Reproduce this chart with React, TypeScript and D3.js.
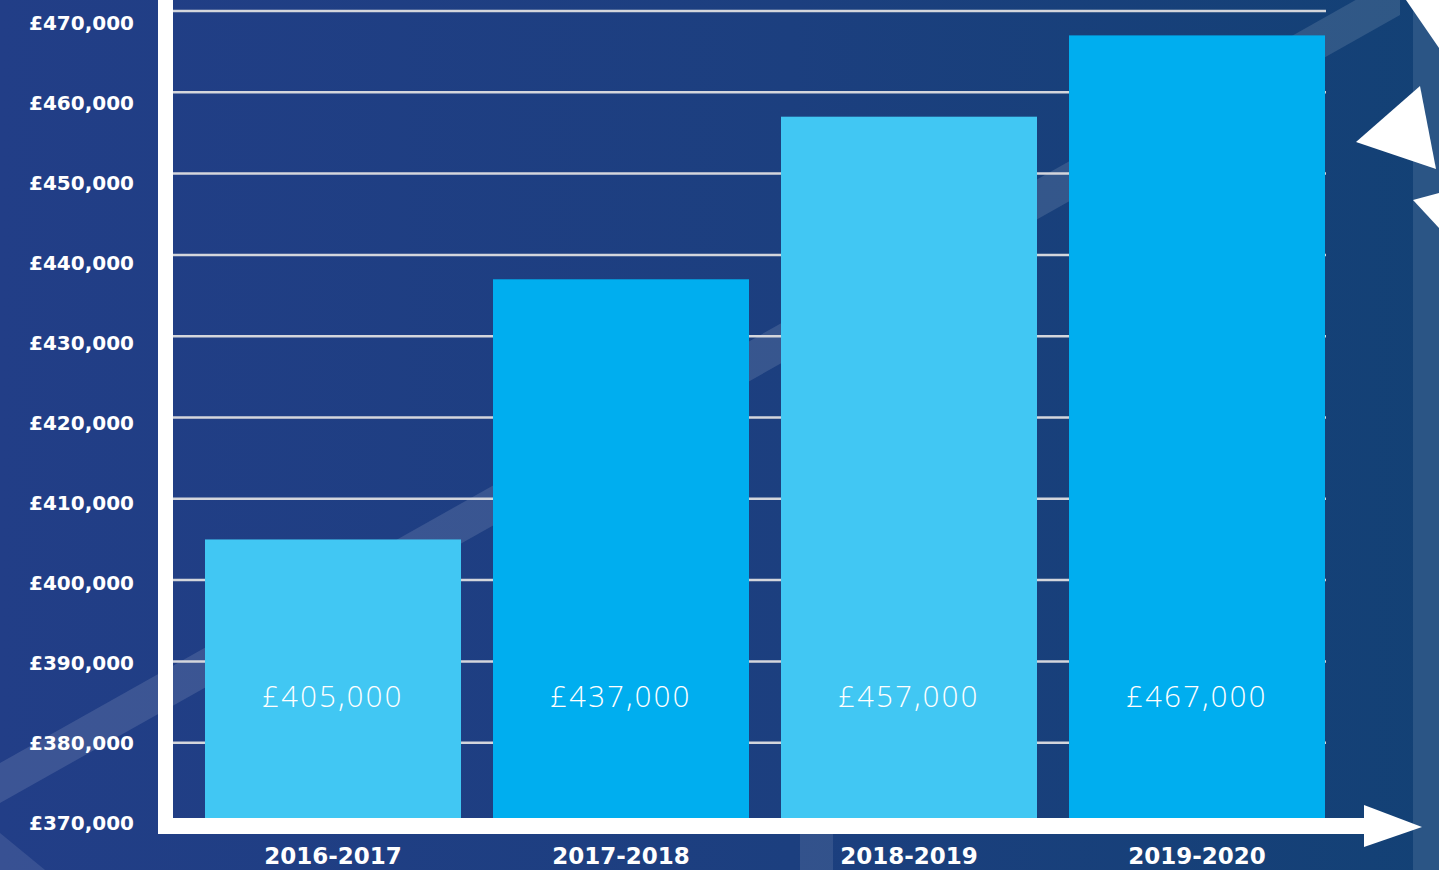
import React from "react";
import * as d3 from "d3";

const categories = ["2016-2017", "2017-2018", "2018-2019", "2019-2020"];
const values = [405000, 437000, 457000, 467000];
const valueLabels = ["£405,000", "£437,000", "£457,000", "£467,000"];
const tickValues = [370000, 380000, 390000, 400000, 410000, 420000, 430000, 440000, 450000, 460000, 470000];
const barColors = ["#41c7f3", "#00aeef", "#41c7f3", "#00aeef"];

const W = 1439;
const H = 870;

export default function App() {
  const x = d3
    .scaleBand<string>()
    .domain(categories)
    .range([189, 1341])
    .paddingInner(32 / 288)
    .paddingOuter(16 / 288);
  const y = d3.scaleLinear().domain([370000, 470000]).range([824, 11]);
  const yLabel = d3.scaleLinear().domain([370000, 470000]).range([823, 23]);
  const fmt = (v: number) => "£" + d3.format(",")(v);

  const boldFont = "'DejaVu Sans', 'Open Sans', sans-serif";
  const lightFont = "'Open Sans', 'DejaVu Sans', sans-serif";

  return (
    <svg
      width={W}
      height={H}
      style={{ position: "absolute", left: 0, top: 0, display: "block" }}
    >
      <defs>
        <linearGradient id="bg" x1="0" y1="0" x2="1" y2="0">
          <stop offset="0" stopColor="#223e87" />
          <stop offset="0.55" stopColor="#1c3f7f" />
          <stop offset="1" stopColor="#134175" />
        </linearGradient>
      </defs>
      <rect x={0} y={0} width={W} height={H} fill="url(#bg)" />
      {/* decorative diagonal bands */}
      <polygon
        points="0,763 1400,-25 1400,15 0,803"
        fill="#ffffff"
        opacity={0.12}
      />
      <polygon points="0,833 45,870 0,870" fill="#ffffff" opacity={0.1} />
      <rect x={800} y={834} width={33} height={36} fill="#ffffff" opacity={0.1} />
      <rect x={1413} y={0} width={26} height={H} fill="#2b5585" />
      {/* white decorative triangles */}
      <polygon points="1356,142 1420,86 1436,169" fill="#ffffff" />
      <polygon points="1413,200 1439,193 1439,228" fill="#ffffff" />
      <polygon points="1406,0 1439,0 1439,48" fill="#ffffff" />

      {/* gridlines */}
      {tickValues
        .filter((t) => t > 370000)
        .map((t) => (
          <line
            key={t}
            x1={173}
            x2={1326}
            y1={y(t)}
            y2={y(t)}
            stroke="#d4d6dc"
            strokeWidth={2.5}
          />
        ))}

      {/* bars */}
      {categories.map((c, i) => (
        <rect
          key={c}
          x={x(c)}
          y={y(values[i])}
          width={x.bandwidth()}
          height={y(370000) - y(values[i])}
          fill={barColors[i]}
        />
      ))}

      {/* value labels */}
      {categories.map((c, i) => (
        <text
          key={c}
          x={(x(c) as number) + x.bandwidth() / 2}
          y={695}
          textAnchor="middle"
          dominantBaseline="central"
          fill="#ffffff"
          fontFamily={lightFont}
          fontWeight={300}
          fontSize={29}
          letterSpacing={2.4}
        >
          {valueLabels[i]}
        </text>
      ))}

      {/* axes */}
      <rect x={158} y={0} width={15} height={834} fill="#ffffff" />
      <rect x={158} y={818} width={1208} height={16} fill="#ffffff" />
      <polygon points="1364,805 1422,827 1364,847" fill="#ffffff" />

      {/* y tick labels */}
      {tickValues.map((t) => (
        <text
          key={t}
          x={134}
          y={yLabel(t)}
          textAnchor="end"
          dominantBaseline="central"
          fill="#ffffff"
          fontFamily={boldFont}
          fontWeight={700}
          fontSize={20}
        >
          {fmt(t)}
        </text>
      ))}

      {/* category labels */}
      {categories.map((c) => (
        <text
          key={c}
          x={(x(c) as number) + x.bandwidth() / 2}
          y={856}
          textAnchor="middle"
          dominantBaseline="central"
          fill="#ffffff"
          fontFamily={boldFont}
          fontWeight={700}
          fontSize={23}
        >
          {c}
        </text>
      ))}
    </svg>
  );
}
